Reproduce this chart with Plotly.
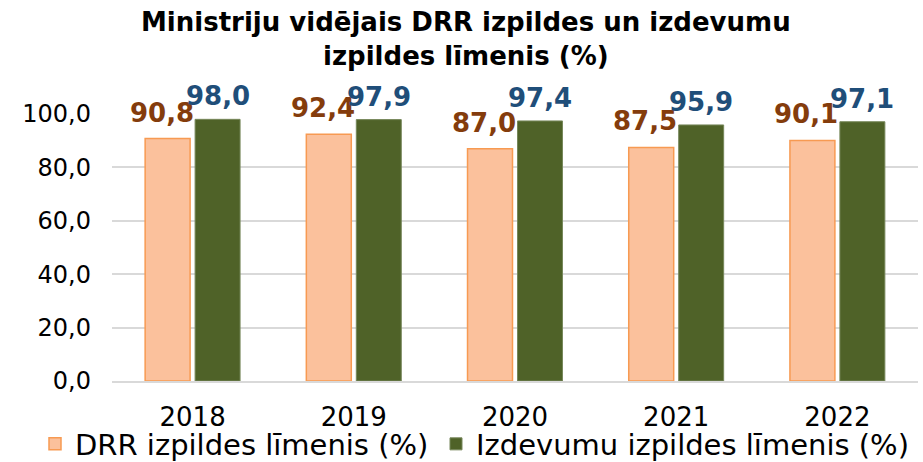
import plotly.graph_objects as go

years = ["2018", "2019", "2020", "2021", "2022"]
drr = [90.8, 92.4, 87.0, 87.5, 90.1]
izdevumi = [98.0, 97.9, 97.4, 95.9, 97.1]
series_names = ["DRR izpildes līmenis (%)", "Izdevumu izpildes līmenis (%)"]
title_text = "Ministriju vidējais DRR izpildes un izdevumu<br>izpildes līmenis (%)"
y_ticks = [0, 20, 40, 60, 80, 100]

def fmt(v):
    return f"{v:.1f}".replace(".", ",")

fig = go.Figure()
fig.add_trace(go.Bar(
    x=years, y=drr, name=series_names[0], legend="legend", showlegend=True,
    marker=dict(color="#FBC19C", line=dict(color="#F79A52", width=1.5)),
))
fig.add_trace(go.Bar(
    x=years, y=izdevumi, name=series_names[1], legend="legend2", showlegend=True,
    marker=dict(color="#4F6228", line=dict(color="#76875A", width=1)),
))

annotations = []
for i, v in enumerate(drr):
    annotations.append(dict(x=i, y=v, text=fmt(v), showarrow=False, xshift=-31,
                            yanchor="bottom", yshift=9,
                            font=dict(family="DejaVu Sans", size=26, color="#843C0C", weight="bold")))
for i, v in enumerate(izdevumi):
    annotations.append(dict(x=i, y=v, text=fmt(v), showarrow=False, xshift=25,
                            yanchor="bottom", yshift=6,
                            font=dict(family="DejaVu Sans", size=26, color="#1F4E79", weight="bold")))
annotations.append(dict(text=title_text, xref="paper", yref="paper", x=0.439, y=1.282,
                        xanchor="center", yanchor="middle", showarrow=False,
                        font=dict(family="DejaVu Sans", size=26, color="black", weight="bold")))

legend_common = dict(orientation="h", xref="container", yref="container",
                     xanchor="left", yanchor="middle",
                     font=dict(size=29, color="black", family="DejaVu Sans"),
                     itemwidth=30, bgcolor="rgba(0,0,0,0)")

fig.update_layout(
    width=923, height=462,
    showlegend=True,
    margin=dict(l=112, r=5, t=113.5, b=80.5),
    paper_bgcolor="white", plot_bgcolor="white",
    separators=", ",
    barmode="group", bargap=0.38, bargroupgap=0.1,
    font=dict(family="DejaVu Sans", color="black"),
    xaxis=dict(type="category", range=[-0.5, len(years) - 0.5], automargin=False,
               showgrid=False, showline=True, linecolor="#D9D9D9", linewidth=2,
               tickfont=dict(size=26, color="black"), ticks="", ticklabelstandoff=12),
    yaxis=dict(range=[0, 100], tickvals=y_ticks, tickformat=".1f", automargin=False,
               showgrid=True, gridcolor="#D9D9D9", gridwidth=2, zeroline=False,
               showline=False, tickfont=dict(size=24, color="black"), ticklabelstandoff=20),
    legend=dict(x=35 / 923, y=18 / 462, **legend_common),
    legend2=dict(x=436 / 923, y=18 / 462, **legend_common),
    annotations=annotations,
)
fig.write_html("out.html", config={"displayModeBar": False},
               post_script="document.body.style.margin='0';document.body.style.overflow='hidden';")
